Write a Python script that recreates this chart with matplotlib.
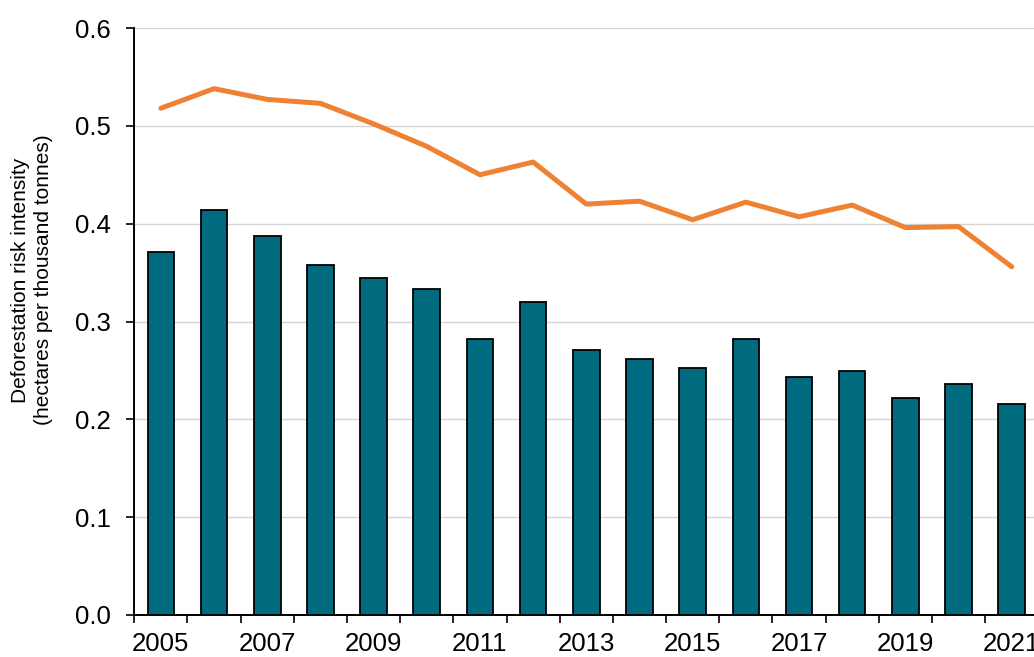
import matplotlib.pyplot as plt
import numpy as np

plt.rcParams['font.family'] = ['Liberation Sans', 'DejaVu Sans']

# data
years = list(range(2005, 2022))
bar_values = [0.371, 0.414, 0.387, 0.358, 0.344, 0.333, 0.282, 0.320, 0.271,
              0.262, 0.252, 0.282, 0.243, 0.249, 0.222, 0.236, 0.216]
line_values = [0.518, 0.538, 0.527, 0.523, 0.502, 0.479, 0.450, 0.463, 0.420,
               0.423, 0.404, 0.422, 0.407, 0.419, 0.396, 0.397, 0.356]
y_ticks = [0.0, 0.1, 0.2, 0.3, 0.4, 0.5, 0.6]
y_label = 'Deforestation risk intensity\n(hectares per thousand tonnes)'

bar_color = '#006A7F'
line_color = '#EE8232'


def main():
    fig = plt.figure(figsize=(10.34, 6.57), dpi=100)
    # axes runs a little past the right edge, like the cropped original
    ax = fig.add_axes([134.3 / 1034, 42 / 657, 904 / 1034, 587 / 657])

    x = np.arange(len(years))
    ax.bar(x, bar_values, width=0.5, color=bar_color, edgecolor='black',
           linewidth=1.3, zorder=3)
    ax.plot(x, line_values, color=line_color, linewidth=3.6,
            solid_capstyle='round', solid_joinstyle='round', zorder=4)

    ax.set_xlim(-0.5, len(years) - 0.5)
    ax.set_ylim(0, 0.6)

    # y axis
    ax.set_yticks(y_ticks)
    ax.set_yticklabels([f'{v:.1f}' for v in y_ticks])
    ax.yaxis.grid(True, color='#D4D4D4', linewidth=1.0, zorder=0)
    ax.tick_params(axis='y', direction='out', length=6, width=1.2,
                   labelsize=18.5, pad=11)

    # x axis: labels at bar centres, tick marks between categories
    ax.set_xticks(x[::2])
    ax.set_xticklabels([str(y) for y in years[::2]])
    ax.set_xticks(np.arange(-0.5, len(years) - 0.5), minor=True)
    ax.tick_params(axis='x', which='major', length=0, labelsize=18.5, pad=12)
    ax.tick_params(axis='x', which='minor', direction='out', length=6,
                   width=1.2)

    for side in ['top', 'right']:
        ax.spines[side].set_visible(False)
    for side in ['left', 'bottom']:
        ax.spines[side].set_linewidth(1.4)
        ax.spines[side].set_color('black')

    fig.text(32 / 1034, 1 - 280 / 657, y_label, rotation=90, ha='center',
             va='center', fontsize=15, linespacing=1.25)

    fig.savefig('out.png', dpi=100)


if __name__ == '__main__':
    main()
